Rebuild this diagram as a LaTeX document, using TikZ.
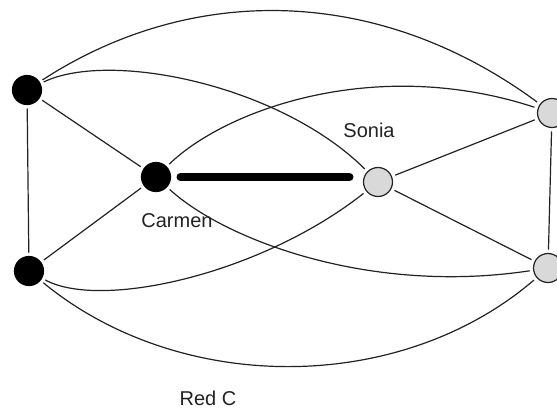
\documentclass[tikz,border=0pt]{standalone}
\usepackage{fontspec}
\setmainfont{Liberation Sans}
\usepackage{xcolor}
\usepackage{tikz}

\definecolor{inkgray}{HTML}{222222}
\definecolor{softgray}{HTML}{D9D9D9}

\begin{document}
\begin{tikzpicture}[
  x=1pt, y=-1pt,
  member/.style={circle, draw=black, line width=1.2pt, inner sep=0pt, minimum size=29pt, outer sep=4pt},
  core/.style={member, fill=black},
  guest/.style={member, draw=inkgray, fill=softgray},
  link/.style={draw=inkgray, line width=1.2pt},
  tie/.style={draw=black, line width=8pt, line cap=round, shorten <=6pt, shorten >=10pt},
  tag/.style={font=\fontsize{20}{24}\selectfont, text=inkgray, inner sep=0pt}
]
\useasboundingbox (0,0) rectangle (557,408);
\node[core] (ana) at (27,90) {};
\node[core] (bea) at (29,271) {};
\node[core] (carmen) at (156,177) {};
\node[guest] (sonia) at (378,182) {};
\node[guest] (dora) at (552,113) {};
\node[guest] (eva) at (548,268) {};
\node[tag] (carmenlbl) at (177,221) {Carmen};
\node[tag] (sonialbl) at (369,130) {Sonia};
\node[tag] (redlbl) at (208,398) {Red C};
% straight ties
\draw[link] (ana) -- (bea);
\draw[link] (ana) -- (carmen);
\draw[link] (bea) -- (carmen);
\draw[link] (sonia) -- (dora);
\draw[link] (sonia) -- (eva);
\draw[link] (dora) -- (eva);
\draw[tie] (carmen.east) -- (carmen.east -| sonia.west);
% curved ties
\draw[link] (ana) .. controls (190,-16) and (377,-16) .. (dora);
\draw[link] (ana) .. controls (110,50) and (280,85) .. (sonia);
\draw[link] (carmen) .. controls (225,110) and (375,55) .. (dora);
\draw[link] (carmen) .. controls (225,240) and (370,295) .. (eva);
\draw[link] (bea) .. controls (100,310) and (260,275) .. (sonia);
\draw[link] (bea) .. controls (180,395) and (400,395) .. (eva);
\end{tikzpicture}
\end{document}
